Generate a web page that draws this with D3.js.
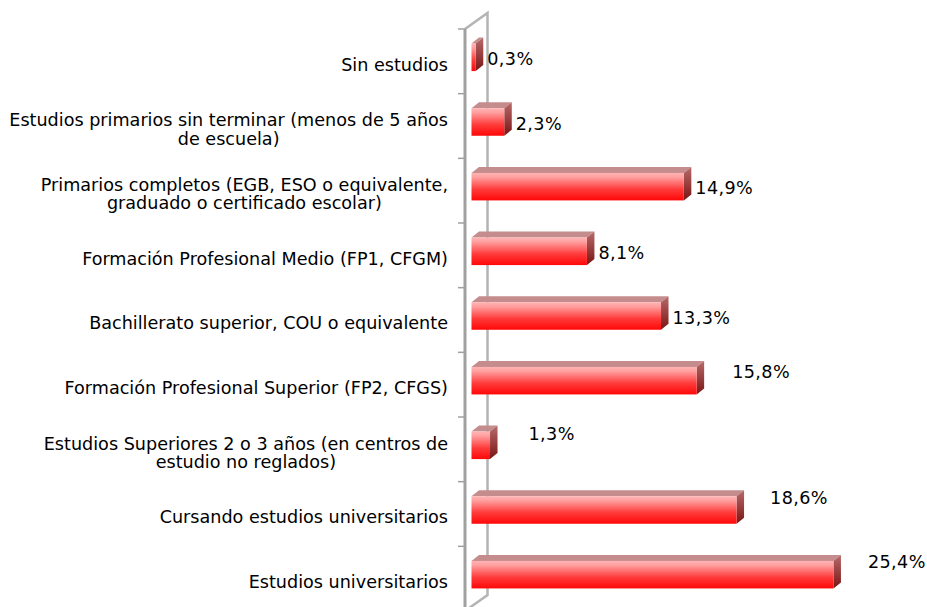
<!DOCTYPE html>
<html>
<head>
<meta charset="utf-8">
<script src="https://cdn.jsdelivr.net/npm/d3@7"></script>
<style>
  body { margin: 0; background: #fff; }
  text { font-family: "DejaVu Sans", Verdana, sans-serif; }
</style>
</head>
<body>
<div id="chart"></div>
<script>
// Categories (top to bottom) and values in %
const categories = [
    "Sin estudios",
    "Estudios primarios sin terminar (menos de 5 años\nde escuela)",
    "Primarios completos (EGB, ESO o equivalente,\ngraduado o certificado escolar)",
    "Formación Profesional Medio (FP1, CFGM)",
    "Bachillerato superior, COU o equivalente",
    "Formación Profesional Superior (FP2, CFGS)",
    "Estudios Superiores 2 o 3 años (en centros de\nestudio no reglados)",
    "Cursando estudios universitarios",
    "Estudios universitarios"
];
const values = [0.3, 2.3, 14.9, 8.1, 13.3, 15.8, 1.3, 18.6, 25.4];
const valueLabels = ["0,3%", "2,3%", "14,9%", "8,1%", "13,3%", "15,8%", "1,3%", "18,6%", "25,4%"];

// labels that were moved by hand in the original [dx, dy]
const labelNudge = [[0, 0], [0, 0], [0, 0], [0, 0], [0, 0], [24, -10], [27, -13], [22, -14], [23, -14]];

const width = 927, height = 607;
const axisX = 465;
const wallDx = 22.5, wallDy = -16;   // depth of the back wall
const depthX = 7.5, depthY = -6;     // depth of each bar
const barH = 27.5;
const fontSize = 17.6, lineH = 18.3;

const svg = d3.select("#chart")
    .append("svg")
    .attr("width", width)
    .attr("height", height);

const x = d3.scaleLinear().domain([0, 30]).range([471.5, 899]);
const y = d3.scaleBand().domain(categories).range([29, 611]);

// Gradients
const defs = svg.append("defs");
const front = defs.append("linearGradient")
    .attr("id", "frontGrad").attr("x1", 0).attr("y1", 0).attr("x2", 0).attr("y2", 1);
front.append("stop").attr("offset", "0%").attr("stop-color", "#ffb4b4");
front.append("stop").attr("offset", "15%").attr("stop-color", "#ffa0a0");
front.append("stop").attr("offset", "60%").attr("stop-color", "#ff3a3a");
front.append("stop").attr("offset", "100%").attr("stop-color", "#ff0808");

const side = defs.append("linearGradient")
    .attr("id", "sideGrad").attr("x1", 0).attr("y1", 0).attr("x2", 0).attr("y2", 1);
side.append("stop").attr("offset", "0%").attr("stop-color", "#b86a6a");
side.append("stop").attr("offset", "100%").attr("stop-color", "#7a1414");

// Back wall
svg.append("path")
    .attr("d", `M${axisX},${y.range()[0]} L${axisX + wallDx},${y.range()[0] + wallDy}
                L${axisX + wallDx},${y.range()[1] + wallDy} L${axisX},${y.range()[1]}`)
    .attr("fill", "none")
    .attr("stroke", "#b4b4b4")
    .attr("stroke-width", 2.5);

// Bars
const bars = svg.selectAll(".bar")
    .data(categories)
    .enter()
    .append("g")
    .attr("class", "bar");

bars.each(function(c, i) {
    const g = d3.select(this);
    const x0 = x(0), x1 = x(values[i]);
    const yc = y(c) + y.bandwidth() / 2 - 4;
    const yt = yc - barH / 2, yb = yc + barH / 2;

    // top face
    g.append("path")
        .attr("d", `M${x0},${yt} L${x0 + depthX},${yt + depthY} L${x1 + depthX},${yt + depthY} L${x1},${yt} Z`)
        .attr("fill", "#c48c8c");
    // right face
    g.append("path")
        .attr("d", `M${x1},${yt} L${x1 + depthX},${yt + depthY} L${x1 + depthX},${yb + depthY} L${x1},${yb} Z`)
        .attr("fill", "url(#sideGrad)");
    // front face
    g.append("rect")
        .attr("x", x0)
        .attr("y", yt)
        .attr("width", x1 - x0)
        .attr("height", barH)
        .attr("fill", "url(#frontGrad)");

    // value label
    g.append("text")
        .attr("x", x1 + depthX + 4 + labelNudge[i][0])
        .attr("y", yc + 7.5 + labelNudge[i][1])
        .style("font-size", fontSize + "px")
        .style("letter-spacing", "0.4px")
        .attr("fill", "#000")
        .text(valueLabels[i]);
});

// Front axis and ticks
svg.append("line")
    .attr("x1", axisX).attr("x2", axisX)
    .attr("y1", y.range()[0]).attr("y2", y.range()[1])
    .attr("stroke", "#a0a0a0")
    .attr("stroke-width", 3);

const tickYs = categories.map(c => y(c));
svg.selectAll(".tick")
    .data(tickYs)
    .enter()
    .append("line")
    .attr("x1", axisX - 7).attr("x2", axisX)
    .attr("y1", d => d).attr("y2", d => d)
    .attr("stroke", "#a0a0a0")
    .attr("stroke-width", 1.5);

// Category labels: block right-aligned, lines centred inside the block
svg.selectAll(".cat")
    .data(categories)
    .enter()
    .append("text")
    .attr("class", "cat")
    .attr("text-anchor", "middle")
    .style("font-size", fontSize + "px")
    .attr("fill", "#000")
    .each(function(c) {
        const t = d3.select(this);
        const lines = c.split("\n");
        const center = y(c) + y.bandwidth() / 2;
        const base = center + 9.4 - (lines.length - 1) * lineH / 2;
        const spans = lines.map((l, k) => t.append("tspan")
            .attr("y", base + k * lineH)
            .text(l));
        const blockW = d3.max(spans, s => s.node().getComputedTextLength());
        spans.forEach(s => s.attr("x", 448 - blockW / 2));
    });
</script>
</body>
</html>
